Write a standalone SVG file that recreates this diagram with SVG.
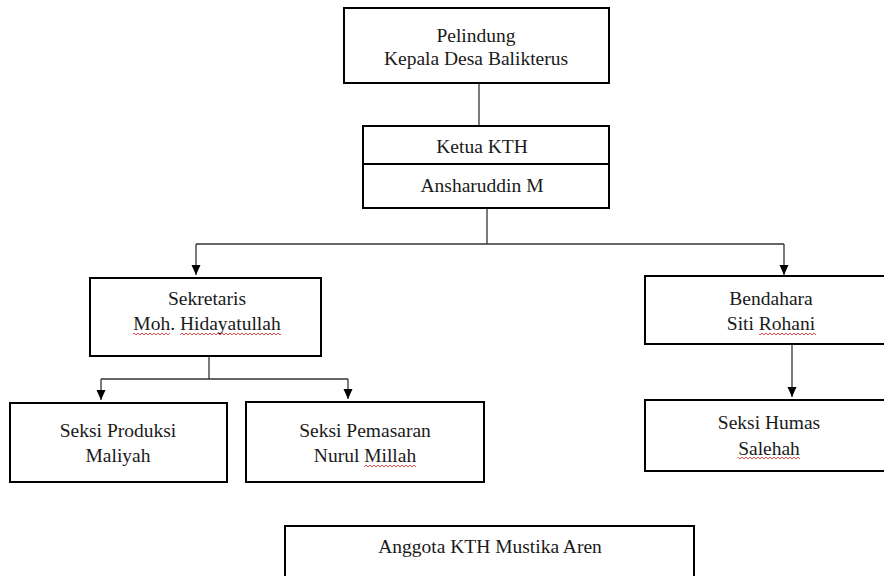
<svg xmlns="http://www.w3.org/2000/svg" width="884" height="576" viewBox="0 0 884 576">
  <style>
    .box { fill: #ffffff; stroke: #000000; stroke-width: 2; }
    .t { font-family: "Liberation Serif", "Times New Roman", serif; font-size: 19.5px; fill: #1a1a1a; text-anchor: middle; }
    .c { fill: none; stroke: #333333; stroke-width: 1.3; }
    .sq { fill: url(#wave); }
  </style>
  <defs>
    <marker id="arr" markerUnits="userSpaceOnUse" markerWidth="10" markerHeight="10" refX="10" refY="5" orient="auto">
      <path d="M0,0.5 L10,5 L0,9.5 Z" fill="#000000"/>
    </marker>
    <pattern id="wave" x="0" y="0" width="4" height="4" patternUnits="userSpaceOnUse">
      <path d="M0,3 L2,1 L4,3" stroke="#e02020" stroke-width="0.8" fill="none"/>
    </pattern>
  </defs>
  <rect width="884" height="576" fill="#ffffff"/>

  <g id="connectors">
    <line class="c" x1="479" y1="83" x2="479" y2="126"/>
    <polyline class="c" points="487,208 487,244"/>
    <line class="c" x1="196" y1="244" x2="784" y2="244"/>
    <line class="c" x1="196" y1="244" x2="196" y2="275" marker-end="url(#arr)"/>
    <line class="c" x1="784" y1="244" x2="784" y2="275" marker-end="url(#arr)"/>
    <line class="c" x1="209" y1="356" x2="209" y2="379"/>
    <line class="c" x1="101" y1="379" x2="348" y2="379"/>
    <line class="c" x1="101" y1="379" x2="101" y2="400" marker-end="url(#arr)"/>
    <line class="c" x1="348" y1="379" x2="348" y2="399" marker-end="url(#arr)"/>
    <line class="c" x1="792" y1="344" x2="792" y2="397" marker-end="url(#arr)"/>
  </g>

  <g id="pelindung">
    <rect class="box" x="344" y="8" width="265" height="75"/>
    <text class="t" x="476" y="42">Pelindung</text>
    <text class="t" x="476" y="65">Kepala Desa Balikterus</text>
  </g>

  <g id="ketua">
    <rect class="box" x="363" y="126" width="246" height="82"/>
    <line x1="363" y1="164" x2="609" y2="164" stroke="#000" stroke-width="2"/>
    <text class="t" x="482" y="153">Ketua KTH</text>
    <text class="t" x="482" y="192">Ansharuddin M</text>
  </g>

  <g id="sekretaris">
    <rect class="box" x="90" y="278" width="231" height="78"/>
    <text class="t" x="207" y="305">Sekretaris</text>
    <text class="t" x="207" y="330">Moh. Hidayatullah</text>
    <rect class="sq" x="133" y="332" width="37" height="4"/>
    <rect class="sq" x="180" y="332" width="101" height="4"/>
  </g>

  <g id="bendahara">
    <rect class="box" x="645" y="276" width="252" height="68"/>
    <text class="t" x="771" y="305">Bendahara</text>
    <text class="t" x="771" y="330">Siti Rohani</text>
    <rect class="sq" x="759" y="332" width="57" height="4"/>
  </g>

  <g id="produksi">
    <rect class="box" x="10" y="403" width="217" height="79"/>
    <text class="t" x="118" y="437">Seksi Produksi</text>
    <text class="t" x="118" y="462">Maliyah</text>
  </g>

  <g id="pemasaran">
    <rect class="box" x="246" y="402" width="238" height="80"/>
    <text class="t" x="365" y="437">Seksi Pemasaran</text>
    <text class="t" x="365" y="462">Nurul Millah</text>
    <rect class="sq" x="364" y="464" width="52" height="4"/>
  </g>

  <g id="humas">
    <rect class="box" x="645" y="400" width="248" height="71"/>
    <text class="t" x="769" y="429">Seksi Humas</text>
    <text class="t" x="769" y="455">Salehah</text>
    <rect class="sq" x="738" y="456" width="62" height="4"/>
  </g>

  <g id="anggota">
    <rect class="box" x="285" y="526" width="409" height="80"/>
    <text class="t" x="490" y="553">Anggota KTH Mustika Aren</text>
  </g>
</svg>
